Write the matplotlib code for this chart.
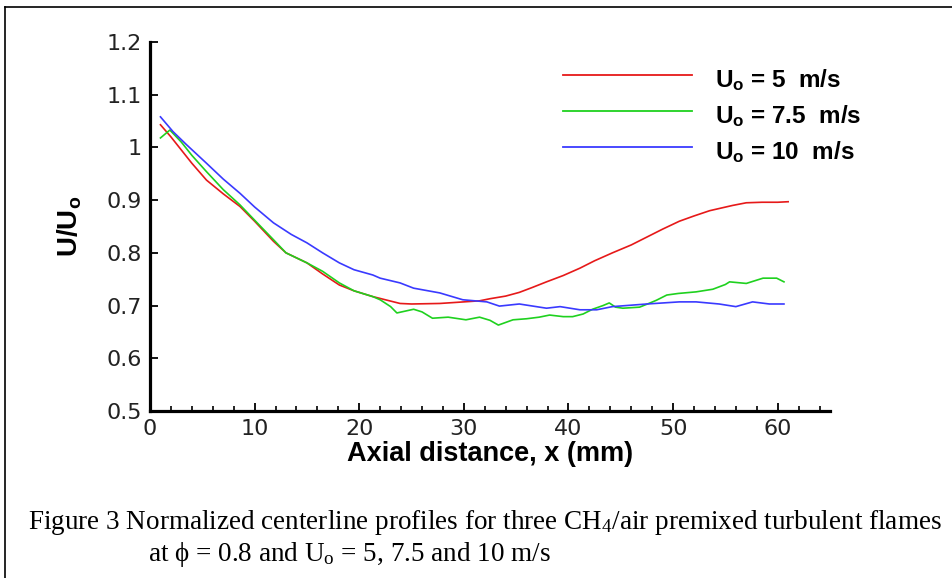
import matplotlib
matplotlib.use("Agg")
import matplotlib.pyplot as plt
from matplotlib.lines import Line2D
from matplotlib.ticker import MultipleLocator

plt.rcParams['mathtext.fontset'] = 'custom'
plt.rcParams['mathtext.rm'] = 'Liberation Serif'
plt.rcParams['mathtext.it'] = 'Liberation Serif:italic'
plt.rcParams['mathtext.bf'] = 'Liberation Sans:bold'

# ---- data ----
x_u5 = [1.0, 2, 3, 4, 5.4, 7, 8.6, 10, 11.8, 13, 15, 16.5, 18.1, 19.5, 21.3, 22.5, 23.9, 25,
        27.7, 30, 31.5, 32.5, 34, 35.3, 36.5, 37.9, 39.5, 41.1, 42.5, 44.2, 46, 47.5, 49,
        50.6, 52, 53.5, 55.7, 57, 58.5, 60, 61]
y_u5 = [1.043, 1.02, 0.995, 0.97, 0.938, 0.912, 0.888, 0.86, 0.822, 0.80, 0.781, 0.76, 0.739,
        0.728, 0.717, 0.711, 0.704, 0.703, 0.704, 0.707, 0.709, 0.713, 0.718, 0.725, 0.734,
        0.745, 0.757, 0.771, 0.785, 0.800, 0.815, 0.830, 0.845, 0.860, 0.870, 0.880, 0.890,
        0.895, 0.896, 0.896, 0.897]

x_u75 = [1.0, 1.9, 3, 4, 5.4, 7, 8.6, 10, 11.8, 13, 15, 16.5, 18.1, 19.5, 21.3, 22, 23, 23.6,
         25.2, 26, 27, 28.5, 30.2, 31.5, 32.5, 33.3, 34.7, 36, 37.2, 38.2, 39.5, 40.4, 41.4,
         42.3, 43.3, 43.9, 44.5, 45.2, 46.8, 47.8, 48.4, 49.4, 50.5, 52.2, 53.8, 55, 55.4,
         57, 58.6, 59.9, 60.6]
y_u75 = [1.018, 1.033, 1.01, 0.985, 0.954, 0.92, 0.891, 0.862, 0.825, 0.80, 0.781, 0.765,
         0.743, 0.728, 0.717, 0.711, 0.698, 0.686, 0.693, 0.688, 0.676, 0.678, 0.673, 0.678,
         0.672, 0.663, 0.673, 0.675, 0.678, 0.682, 0.679, 0.679, 0.684, 0.693, 0.700, 0.705,
         0.697, 0.695, 0.697, 0.705, 0.710, 0.720, 0.723, 0.726, 0.731, 0.740, 0.745, 0.742,
         0.752, 0.752, 0.745]

x_u10 = [1.0, 2.2, 3.5, 5.4, 7, 8.6, 10, 11.8, 13.5, 15, 16.5, 18.1, 19.5, 21.3, 22, 23.9,
         25.2, 27.7, 29.9, 32.2, 33.4, 35.3, 37.9, 39.2, 41.1, 42.7, 44.2, 47.5, 50.6, 52.2,
         54.4, 56, 57.6, 59.2, 60.6]
y_u10 = [1.058, 1.03, 1.005, 0.97, 0.94, 0.913, 0.887, 0.857, 0.835, 0.819, 0.80, 0.781,
         0.768, 0.758, 0.752, 0.743, 0.733, 0.724, 0.711, 0.707, 0.699, 0.703, 0.695, 0.698,
         0.692, 0.692, 0.698, 0.703, 0.707, 0.707, 0.703, 0.698, 0.707, 0.703, 0.703]

labels = [r'$\mathbf{U_o}$ = 5  m/s', r'$\mathbf{U_o}$ = 7.5  m/s', r'$\mathbf{U_o}$ = 10  m/s']
colors = ['#e61919', '#1fd11f', '#3a3aff']
x_ticks = [0, 10, 20, 30, 40, 50, 60]
y_ticks = [0.5, 0.6, 0.7, 0.8, 0.9, 1.0, 1.1, 1.2]
y_tick_labels = ['0.5', '0.6', '0.7', '0.8', '0.9', '1', '1.1', '1.2']

W, H = 952, 578
fig = plt.figure(figsize=(W / 100, H / 100), dpi=100)
ax = fig.add_axes([150 / W, (H - 411) / H, 680 / W, 369 / H])

series = [(x_u5, y_u5), (x_u75, y_u75), (x_u10, y_u10)]
for (xs, ys), c in zip(series, colors):
    ax.plot(xs, ys, color=c, lw=1.2)

ax.set_xlim(0, 65)
ax.set_ylim(0.5, 1.2)
ax.set_xticks(x_ticks)
ax.xaxis.set_minor_locator(MultipleLocator(2))
ax.set_yticks(y_ticks)
ax.set_yticklabels(y_tick_labels)
for s in ['top', 'right']:
    ax.spines[s].set_visible(False)
for s in ['left', 'bottom']:
    ax.spines[s].set_linewidth(2.3)
ax.tick_params(which='major', direction='in', length=6, width=1.3, labelsize=16,
               colors='black', labelcolor='#222222')
ax.tick_params(which='minor', direction='in', length=3.5, width=1.2)
ax.tick_params(axis='x', pad=6)
ax.tick_params(axis='y', pad=6)
for lab in ax.get_xticklabels() + ax.get_yticklabels():
    lab.set_fontfamily('DejaVu Sans')

ax.set_xlabel('Axial distance, x (mm)', fontsize=19.5, fontweight='bold',
              family='Liberation Sans', labelpad=1)
ax.set_ylabel(r'$\mathbf{U/U_o}$', fontsize=20, labelpad=16)

# legend (manual, Tecplot style)
rows_px = [75, 111, 147]
for ypx, c, lab in zip(rows_px, colors, labels):
    yf = (411 - ypx) / 369
    ax.add_line(Line2D([(563 - 150) / 680, (692 - 150) / 680], [yf, yf],
                       transform=ax.transAxes, color=c, lw=1.3, clip_on=False))
    ax.text((715 - 150) / 680, (411 - ypx - 12) / 369, lab, transform=ax.transAxes,
            fontsize=17.5, fontweight='bold', family='Liberation Sans', va='baseline',
            ha='left')

# caption
cap_font = ['Liberation Serif', 'DejaVu Serif']
fig.text(28 / W, 1 - 529 / H,
         r'Figure 3 Normalized centerline profiles for three CH$_\mathrm{4}$/air premixed turbulent flames',
         fontsize=19.5, family=cap_font, va='baseline', ha='left')
fig.text(148 / W, 1 - 561 / H,
         r'at ϕ = 0.8 and U$_\mathrm{o}$ = 5, 7.5 and 10 m/s',
         fontsize=19.5, family=cap_font, va='baseline', ha='left')

# figure border
fig.add_artist(Line2D([5 / W, 5 / W], [0, 1 - 7 / H], transform=fig.transFigure,
                      color='black', lw=1.2))
fig.add_artist(Line2D([5 / W, 1], [1 - 7 / H, 1 - 7 / H], transform=fig.transFigure,
                      color='black', lw=1.2))

fig.savefig('out.png', dpi=100)
